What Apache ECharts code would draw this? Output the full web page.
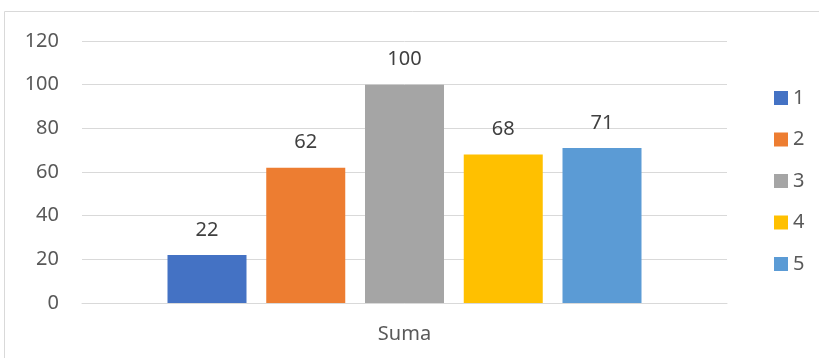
<!DOCTYPE html>
<html><head><meta charset="utf-8">
<script src="https://cdn.jsdelivr.net/npm/echarts@6/dist/echarts.min.js"></script>
<style>html,body{margin:0;padding:0;background:#fff}#c{width:819px;height:358px}</style>
</head><body><div id="c"></div>
<script>
const categories = ['Suma'];
const seriesNames = ['1', '2', '3', '4', '5'];
const seriesValues = [22, 62, 100, 68, 71];
const colors = ['#4472C4', '#ED7D31', '#A5A5A5', '#FFC000', '#5B9BD5'];
const yTicks = { min: 0, max: 120, interval: 20 };

const font = 'Noto Sans';
const fs = 20;
const chart = echarts.init(document.getElementById('c'));
chart.setOption({
  animation: false,
  textStyle: { fontFamily: font },
  grid: { left: 82, right: 92, top: 41, bottom: 55 },
  graphic: [{ type: 'rect', shape: { x: 4.5, y: 11.5, width: 900, height: 500 },
    style: { fill: 'none', stroke: '#d9d9d9', lineWidth: 1 }, silent: true }],
  legend: {
    orient: 'vertical', left: 769, top: 83, itemWidth: 14, itemHeight: 14, itemGap: 21.5,
    icon: 'rect', textStyle: { fontSize: fs, color: '#595959', fontFamily: font },
    data: seriesNames
  },
  xAxis: {
    type: 'category', data: categories,
    axisLine: { lineStyle: { color: '#d9d9d9', width: 1 } },
    axisTick: { show: false },
    axisLabel: { fontSize: fs, color: '#595959', margin: 21, fontFamily: font }
  },
  yAxis: {
    type: 'value', min: yTicks.min, max: yTicks.max, interval: yTicks.interval,
    axisLine: { show: false }, axisTick: { show: false },
    splitLine: { lineStyle: { color: '#d9d9d9', width: 1 } },
    axisLabel: { fontSize: fs, color: '#595959', margin: 23, fontFamily: font }
  },
  series: seriesNames.map((n, i) => ({
    name: n, type: 'bar', data: [seriesValues[i]], barWidth: 79, barGap: '25%',
    itemStyle: { color: colors[i] },
    label: { show: true, position: 'top', distance: 15, fontSize: fs, color: '#404040', fontFamily: font }
  }))
});
</script></body></html>
